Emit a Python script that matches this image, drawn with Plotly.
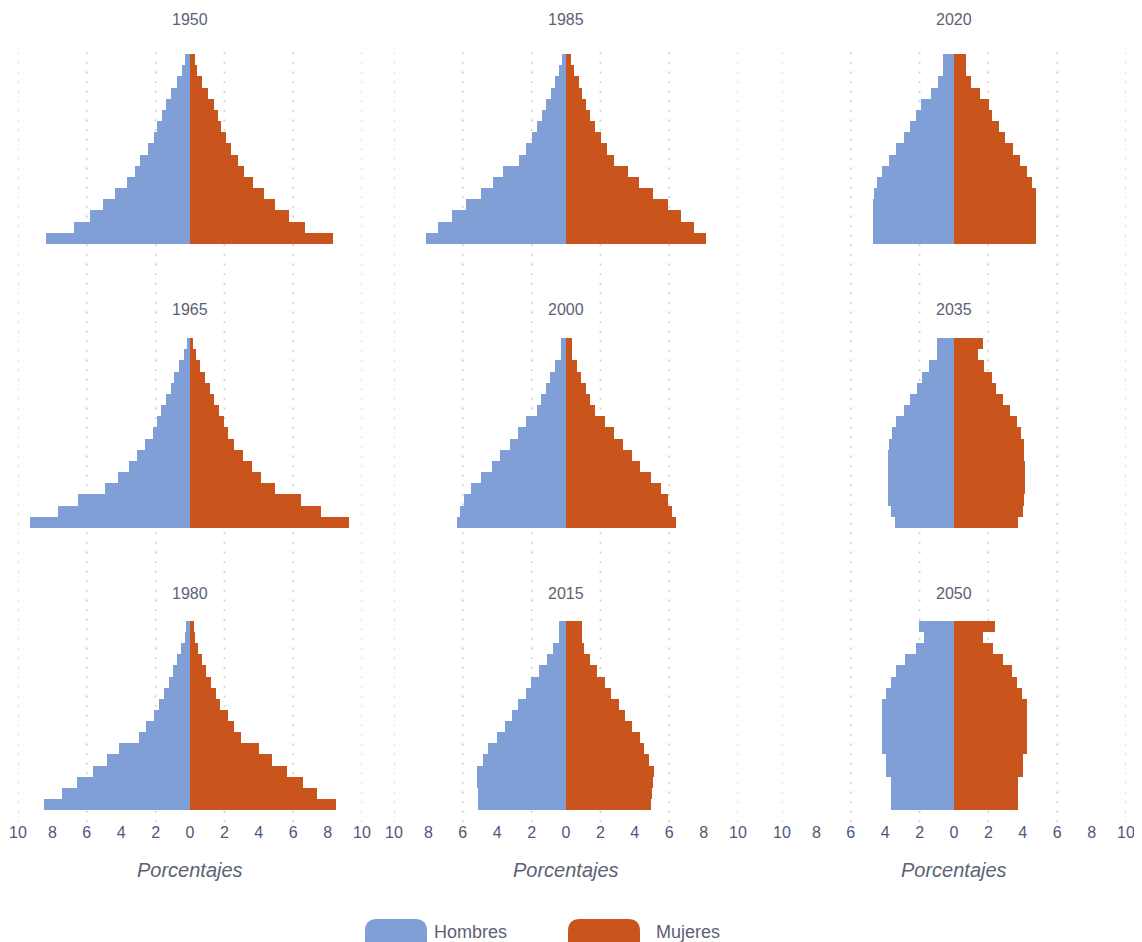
import plotly.graph_objects as go
from plotly.subplots import make_subplots

# ---------------- data ----------------
ages = ["0-4", "5-9", "10-14", "15-19", "20-24", "25-29", "30-34", "35-39", "40-44",
        "45-49", "50-54", "55-59", "60-64", "65-69", "70-74", "75-79", "80+"]

years_grid = [["1950", "1985", "2020"],
              ["1965", "2000", "2035"],
              ["1980", "2015", "2050"]]

hombres_1950 = [8.35, 6.75, 5.81, 5.03, 4.35, 3.67, 3.22, 2.93, 2.46, 2.11, 1.91, 1.64, 1.39, 1.09, 0.74, 0.45, 0.31]
mujeres_1950 = [8.29, 6.71, 5.74, 4.96, 4.33, 3.65, 3.12, 2.81, 2.38, 2.09, 1.83, 1.60, 1.37, 1.05, 0.72, 0.43, 0.27]
hombres_1965 = [9.29, 7.67, 6.50, 4.94, 4.16, 3.57, 3.08, 2.63, 2.17, 1.91, 1.66, 1.39, 1.13, 0.94, 0.64, 0.35, 0.16]
mujeres_1965 = [9.25, 7.61, 6.48, 4.92, 4.10, 3.59, 3.06, 2.58, 2.22, 1.95, 1.70, 1.40, 1.17, 0.86, 0.59, 0.33, 0.18]
hombres_1980 = [8.50, 7.43, 6.56, 5.62, 4.80, 4.10, 2.99, 2.56, 2.11, 1.78, 1.52, 1.23, 0.98, 0.74, 0.55, 0.29, 0.25]
mujeres_1980 = [8.47, 7.40, 6.58, 5.64, 4.76, 4.04, 2.97, 2.58, 2.19, 1.76, 1.50, 1.21, 0.92, 0.68, 0.47, 0.27, 0.23]
hombres_1985 = [8.13, 7.44, 6.61, 5.83, 4.94, 4.25, 3.66, 2.72, 2.32, 1.99, 1.69, 1.38, 1.14, 0.89, 0.65, 0.41, 0.22]
mujeres_1985 = [8.15, 7.46, 6.67, 5.91, 5.06, 4.27, 3.58, 2.80, 2.40, 2.01, 1.71, 1.42, 1.18, 0.93, 0.73, 0.49, 0.28]
hombres_2000 = [6.36, 6.16, 5.93, 5.53, 4.92, 4.33, 3.84, 3.25, 2.78, 2.32, 1.71, 1.44, 1.18, 0.91, 0.65, 0.30, 0.30]
mujeres_2000 = [6.38, 6.14, 5.94, 5.55, 4.92, 4.33, 3.84, 3.29, 2.80, 2.26, 1.71, 1.42, 1.16, 0.89, 0.63, 0.37, 0.37]
hombres_2015 = [5.10, 5.13, 5.15, 5.15, 4.80, 4.53, 4.04, 3.54, 3.15, 2.80, 2.34, 2.01, 1.57, 1.12, 0.77, 0.39, 0.39]
mujeres_2015 = [4.95, 5.00, 5.05, 5.10, 4.84, 4.55, 4.29, 3.84, 3.41, 3.07, 2.62, 2.26, 1.83, 1.40, 1.04, 0.94, 0.94]
hombres_2020 = [4.69, 4.70, 4.70, 4.69, 4.68, 4.49, 4.19, 3.80, 3.37, 2.91, 2.56, 2.22, 1.89, 1.34, 0.94, 0.65, 0.65]
mujeres_2020 = [4.76, 4.77, 4.77, 4.76, 4.75, 4.53, 4.27, 3.82, 3.43, 2.99, 2.60, 2.20, 2.01, 1.52, 0.98, 0.69, 0.69]
hombres_2035 = [3.44, 3.68, 3.82, 3.86, 3.86, 3.86, 3.82, 3.78, 3.58, 3.35, 2.89, 2.54, 2.17, 1.87, 1.48, 0.98, 0.98]
mujeres_2035 = [3.74, 4.00, 4.09, 4.13, 4.13, 4.13, 4.09, 4.06, 3.90, 3.66, 3.27, 2.87, 2.46, 2.19, 1.73, 1.40, 1.69]
hombres_2050 = [3.68, 3.68, 3.68, 3.98, 3.98, 4.19, 4.19, 4.19, 4.19, 4.19, 3.94, 3.64, 3.39, 2.85, 2.22, 1.73, 2.01]
mujeres_2050 = [3.74, 3.74, 3.74, 4.00, 4.04, 4.23, 4.23, 4.23, 4.23, 4.23, 3.94, 3.64, 3.39, 2.85, 2.26, 1.71, 2.36]

hombres = {"1950": hombres_1950, "1965": hombres_1965, "1980": hombres_1980,
           "1985": hombres_1985, "2000": hombres_2000, "2015": hombres_2015,
           "2020": hombres_2020, "2035": hombres_2035, "2050": hombres_2050}
mujeres = {"1950": mujeres_1950, "1965": mujeres_1965, "1980": mujeres_1980,
           "1985": mujeres_1985, "2000": mujeres_2000, "2015": mujeres_2015,
           "2020": mujeres_2020, "2035": mujeres_2035, "2050": mujeres_2050}

tick_vals = [-10, -8, -6, -4, -2, 0, 2, 4, 6, 8, 10]
tick_text = ["10", "8", "6", "4", "2", "0", "2", "4", "6", "8", "10"]
grid_vals = [-10, -6, -2, 2, 6, 10]

x_title = "Porcentajes"
legend_names = ["Hombres", "Mujeres"]

# ---------------- style ----------------
W, H = 1142, 942
OFF = 8  # page body margin offset
COL_BLUE = "#7f9fd6"
COL_ORANGE = "#c9541c"
TXT = "#5b6275"
TICK_TXT = "#4d5878"
FONT = "Liberation Sans, Arial, sans-serif"

col_px = [(18, 362), (394, 738), (782, 1126)]
row_px = [(54, 244), (338, 528), (621, 810)]
title_y_px = [20, 309, 593]


def px_x(p):
    return (p - OFF) / W


def px_y(p):
    return 1 - (p - OFF) / H


fig = make_subplots(rows=3, cols=3)

for r in range(3):
    for c in range(3):
        yr = years_grid[r][c]
        h = hombres[yr]
        m = mujeres[yr]
        fig.add_trace(go.Bar(y=ages, x=[-v for v in h], orientation="h",
                             marker=dict(color=COL_BLUE, line=dict(width=0)),
                             name=legend_names[0], customdata=h,
                             hovertemplate="%{y}: %{customdata:.2f}%<extra>Hombres " + yr + "</extra>",
                             showlegend=False), row=r + 1, col=c + 1)
        fig.add_trace(go.Bar(y=ages, x=m, orientation="h",
                             marker=dict(color=COL_ORANGE, line=dict(width=0)),
                             name=legend_names[1],
                             hovertemplate="%{y}: %{x:.2f}%<extra>Mujeres " + yr + "</extra>",
                             showlegend=False), row=r + 1, col=c + 1)

        idx = r * 3 + c + 1
        xa = "xaxis" if idx == 1 else f"xaxis{idx}"
        ya = "yaxis" if idx == 1 else f"yaxis{idx}"
        bottom = (r == 2)
        fig.layout[xa].update(
            domain=[px_x(col_px[c][0]), px_x(col_px[c][1])],
            range=[-10, 10], tickvals=tick_vals, ticktext=tick_text,
            showticklabels=bottom, showgrid=False, zeroline=False, showline=False,
            ticks="outside" if bottom else "", ticklen=8, tickcolor="rgba(0,0,0,0)",
            tickfont=dict(family=FONT, size=16, color=TICK_TXT),
            automargin=False, fixedrange=True,
        )
        fig.layout[ya].update(
            domain=[px_y(row_px[r][1]), px_y(row_px[r][0])],
            type="category", range=[-0.5, len(ages) - 0.5],
            visible=False, automargin=False, fixedrange=True,
        )
        # panel titles
        fig.add_annotation(text=yr, xref="paper", yref="paper",
                           x=px_x((col_px[c][0] + col_px[c][1]) / 2), y=px_y(title_y_px[r]),
                           showarrow=False, xanchor="center", yanchor="middle",
                           font=dict(family=FONT, size=16, color=TXT))

# dotted vertical gridlines spanning all rows
for c in range(3):
    xr = "x" if c == 0 else f"x{c + 1}"
    for v in grid_vals:
        fig.add_shape(type="line", xref=xr, yref="paper", x0=v, x1=v,
                      y0=px_y(822), y1=px_y(45), layer="below",
                      line=dict(color="#c4c4c4", width=1.6, dash="1.6px,8px"))
    # x axis titles
    fig.add_annotation(text="<i>" + x_title + "</i>", xref="paper", yref="paper",
                       x=px_x((col_px[c][0] + col_px[c][1]) / 2), y=px_y(870),
                       showarrow=False, xanchor="center", yanchor="middle",
                       font=dict(family=FONT, size=20, color=TXT))

# manual legend (large rounded swatches)
def rounded_rect(x0, y0, x1, y1, rad):
    X0, X1 = px_x(x0), px_x(x1)
    Y0, Y1 = px_y(y0), px_y(y1)
    rx, ry = rad / W, rad / H
    return (f"M{X0 + rx},{Y0} L{X1 - rx},{Y0} Q{X1},{Y0} {X1},{Y0 - ry} "
            f"L{X1},{Y1 + ry} Q{X1},{Y1} {X1 - rx},{Y1} L{X0 + rx},{Y1} "
            f"Q{X0},{Y1} {X0},{Y1 + ry} L{X0},{Y0 - ry} Q{X0},{Y0} {X0 + rx},{Y0} Z")


legend_items = [(legend_names[0], COL_BLUE, 365, 427, 432),
                (legend_names[1], COL_ORANGE, 568, 640, 654)]
for name, colr, sx0, sx1, tx in legend_items:
    fig.add_shape(type="path", xref="paper", yref="paper",
                  path=rounded_rect(sx0, 919, sx1, 956, 12),
                  fillcolor=colr, line=dict(width=0))
    fig.add_annotation(text=name, xref="paper", yref="paper",
                       x=px_x(tx), y=px_y(932), showarrow=False,
                       xanchor="left", yanchor="middle",
                       font=dict(family=FONT, size=18, color=TXT))

fig.update_layout(
    width=W, height=H,
    margin=dict(l=0, r=0, t=0, b=0, autoexpand=False),
    paper_bgcolor="white", plot_bgcolor="rgba(0,0,0,0)",
    barmode="overlay", bargap=0,
    showlegend=False,
)

fig.write_html("out.html")
